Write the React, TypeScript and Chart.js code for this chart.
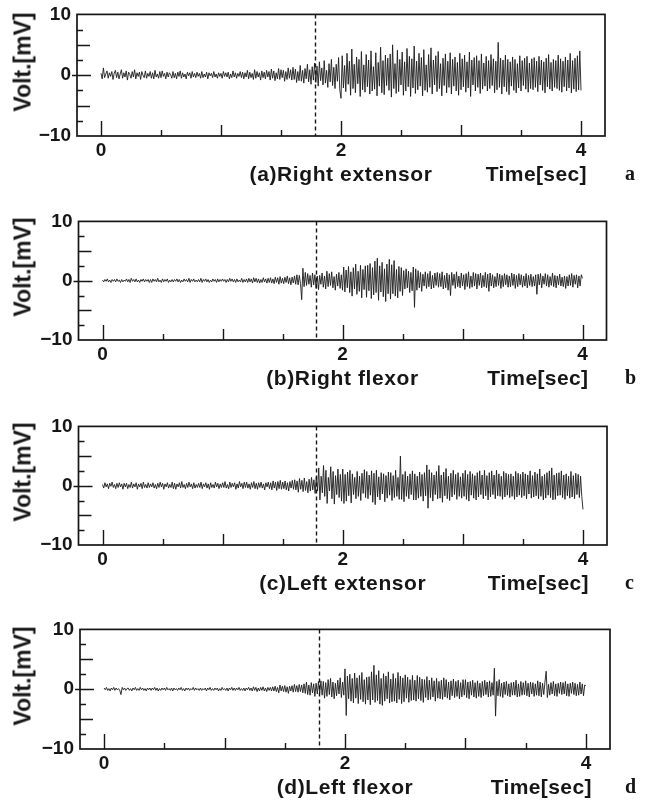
import React, { useEffect, useRef } from "react";
import { Chart, registerables } from "chart.js";

Chart.register(...registerables);

// ---- data -------------------------------------------------------------
const SAMPLE_STEP = 0.01; // seconds between samples
const X_TICK_LABELS = [0, 2, 4];
const Y_TICK_LABELS = [-10, 0, 10];
const ONSET_TIME = 1.78;
const CAPTIONS = ["(a)Right extensor", "(b)Right flexor", "(c)Left extensor", "(d)Left flexor"];
const LETTERS = ["a", "b", "c", "d"];
const X_TITLE = "Time[sec]";
const Y_TITLE = "Volt.[mV]";

const RIGHT_EXTENSOR = [
  0.3, -0.6, 1.2, -0.4, 0.2, 0.7, -0.5, 0.4, -0.2, 0.6, -0.7, 0.3, 0.8, -0.4, 0.5, -0.6, 0.2, 0.9, -0.5, 0.4,
  -0.3, 0.7, -0.8, 0.5, 0.1, -0.5, 0.6, -0.3, 0.9, -0.6, 0.4, -0.2, 0.5, -0.7, 0.6, 0.0, -0.4, 0.7, -0.5, 0.3,
  -0.2, 0.6, -0.5, 0.4, -0.6, 0.8, -0.3, 0.2, -0.5, 0.6, -0.4, 0.7, -0.2, 0.3, -0.6, 0.5, -0.3, 0.4, 0.1, -0.5,
  0.6, -0.4, 0.3, -0.6, 0.5, -0.2, 0.7, -0.5, 0.4, -0.3, 0.2, -0.6, 0.5, -0.1, 0.4, -0.5, 0.6, -0.3, 0.3, -0.4,
  0.5, -0.2, 0.3, -0.5, 0.6, -0.4, 0.2, -0.3, 0.5, -0.6, 0.4, -0.1, 0.3, -0.4, 0.6, -0.3, 0.2, -0.5, 0.4, -0.2,
  0.3, -0.5, 0.6, -0.2, 0.4, -0.3, 0.5, -0.6, 0.2, -0.4, 0.7, -0.3, 0.4, -0.5, 0.3, -0.2, 0.6, -0.4, 0.5, -0.6,
  0.4, -0.3, 0.8, -0.6, 0.5, -0.4, 0.3, -0.7, 0.9, -0.5, 0.6, -0.3, 0.4, -0.8, 0.7, -0.4, 0.5, -0.6, 0.8, -0.3,
  0.6, -0.8, 1.0, -0.5, 0.7, -0.9, 0.4, -0.6, 1.1, -0.7, 0.9, -0.4, 0.8, -1.0, 0.6, -0.7, 1.2, -0.5, 0.9, -0.8,
  1.3, -0.7, 1.0, -1.2, 0.6, -0.9, 1.6, -1.0, 0.8, -1.3, 1.1, -0.6, 1.8, -1.1, 0.9, -1.5, 1.4, -0.8, 2.0, -1.2,
  1.5, -1.8, 2.2, -0.9, 1.2, -1.6, 2.4, -1.3, 0.8, -2.0, 1.9, -1.1, 2.6, -1.7, 1.3, -2.2, 1.8, -1.0, 2.9, -2.4,
  -3.8, 3.2, -2.1, 1.6, -2.7, 3.6, -1.5, 2.3, -3.3, 4.3, -2.2, 1.8, -2.9, 3.0, -1.4, 2.6, -3.5, 3.9, -2.4, 1.7,
  -2.8, 3.4, -1.9, 2.5, -3.1, 4.0, -2.6, 1.4, -2.3, 3.7, -3.4, 2.1, -1.8, 4.6, -2.9, 2.4, -3.2, 3.3, -1.7, 2.8,
  -2.5, 3.5, -3.6, 5.0, -2.2, 1.9, -3.0, 4.1, -2.7, 2.6, -1.6, 3.8, -3.3, 2.2, -2.6, 4.4, -1.9, 3.1, -3.5, 2.7,
  -2.1, 4.8, -3.0, 2.3, -2.4, 3.6, -1.8, 2.9, -3.4, 4.2, -2.5, 1.7, -2.8, 3.4, -2.0, 4.5, -3.1, 2.5, -1.6, 3.2,
  -2.7, 3.9, -2.2, 1.9, -3.4, 2.8, -1.7, 3.5, -2.9, 2.3, -2.0, 3.7, -3.1, 2.6, -1.8, 3.0, -2.6, 2.1, -3.3, 3.6,
  -2.4, 2.7, -1.9, 3.3, -2.8, 2.2, -2.1, 3.8, -3.5, 2.5, -1.6, 2.9, -2.6, 3.2, -2.0, 2.4, -3.0, 3.5, -2.3, 2.0,
  -1.8, 3.1, -2.6, 2.4, -2.2, 3.4, -1.7, 2.7, -2.9, 2.3, -2.4, 5.4, -2.0, 2.8, -3.1, 2.5, -1.9, 3.3, -2.7, 2.6,
  -3.2, 2.2, -1.8, 3.0, -2.5, 2.6, -2.9, 1.9, -2.1, 3.2, -2.6, 2.4, -1.7, 2.8, -2.3, 3.1, -2.8, 2.0, -2.2, 2.7,
  -2.4, 2.9, -2.0, 2.3, -2.7, 3.1, -1.6, 2.5, -2.5, 2.2, -2.9, 2.8, -1.9, 3.4, -2.3, 2.1, -2.6, 2.6, -2.0, 2.4,
  -2.2, 3.3, -2.5, 2.7, -2.8, 2.3, -1.9, 3.0, -2.6, 2.5, -2.1, 3.6, -2.9, 2.4, -2.3, 2.8, -2.7, 3.2, -2.4, 4.0,
  -2.5,
];

const RIGHT_FLEXOR = [
  0.1, -0.2, 0.2, -0.1, 0.3, -0.2, 0.1, -0.3, 0.2, -0.1, 0.2, -0.2, 0.3, -0.1, 0.1, -0.3, 0.2, -0.2, 0.1, -0.1,
  0.3, -0.2, 0.2, -0.3, 0.4, -0.1, 0.2, -0.2, 0.3, -0.2, 0.1, -0.3, 0.2, -0.1, 0.3, -0.2, 0.2, -0.1, 0.2, -0.3,
  0.2, -0.3, 0.3, -0.1, 0.2, -0.2, 0.4, -0.2, 0.1, -0.3, 0.3, -0.2, 0.2, -0.1, 0.3, -0.3, 0.1, -0.2, 0.2, -0.2,
  0.2, -0.1, 0.3, -0.2, 0.2, -0.3, 0.1, -0.2, 0.3, -0.1, 0.2, -0.2, 0.4, -0.3, 0.2, -0.1, 0.3, -0.2, 0.1, -0.2,
  0.2, -0.2, 0.4, -0.3, 0.2, -0.1, 0.3, -0.2, 0.2, -0.3, 0.1, -0.2, 0.3, -0.1, 0.2, -0.3, 0.3, -0.2, 0.2, -0.1,
  0.3, -0.1, 0.2, -0.3, 0.2, -0.2, 0.4, -0.1, 0.3, -0.2, 0.2, -0.3, 0.3, -0.2, 0.1, -0.2, 0.4, -0.3, 0.2, -0.2,
  0.3, -0.3, 0.4, -0.2, 0.3, -0.4, 0.5, -0.2, 0.4, -0.3, 0.3, -0.4, 0.2, -0.3, 0.5, -0.2, 0.3, -0.4, 0.4, -0.3,
  0.5, -0.4, 0.3, -0.5, 0.6, -0.3, 0.5, -0.6, 0.7, -0.4, 0.4, -0.5, 0.6, -0.3, 0.8, -0.5, 0.5, -0.7, 0.6, -0.4,
  0.8, -0.6, 1.0, -0.7, 0.9, -0.5, -3.2, 2.1, -1.0, 1.4, -0.8, 1.2, -0.6, 0.9, -1.1, 1.3, -0.7, 1.0, -1.3, 0.8,
  -1.5, 0.9, -0.6, 1.3, -1.1, 0.8, -1.4, 1.6, -1.0, 1.2, -0.8, 1.5, -1.2, 0.7, -1.6, 1.1, -0.9, 1.4, -1.3, 1.0,
  -1.6, 2.3, -1.9, 1.8, -1.2, 2.4, -2.0, 1.5, -2.6, 2.2, -1.4, 2.8, -2.3, 1.6, -1.8, 2.6, -2.9, 1.9, -1.5, 2.5,
  -2.8, 2.6, -1.7, 2.9, -3.0, 2.2, -2.4, 3.3, -2.0, 3.8, -3.3, 2.5, -1.9, 3.1, -2.7, 2.0, -3.5, 2.8, -2.2, 3.6,
  -3.1, 2.7, -2.2, 3.4, -2.6, 1.9, -2.9, 2.4, -1.8, 2.2, -2.5, 1.7, -1.4, 2.0, -1.2, 1.6, -2.0, 1.4, -1.7, 2.3,
  -4.5, 2.0, -1.6, 1.7, -1.2, 1.4, -1.8, 1.1, -0.9, 1.5, -1.3, 1.2, -1.0, 1.6, -1.4, 0.9, -1.2, 1.3, -0.8, 1.4,
  -1.1, 1.2, -1.0, 1.5, -1.4, 0.9, -1.2, 1.3, -1.6, 1.0, -2.5, 1.4, -0.8, 1.1, -1.3, 1.5, -1.0, 0.8, -1.2, 1.3,
  -0.9, 1.0, -1.5, 1.2, -1.0, 1.5, -1.3, 0.8, -1.1, 1.4, -0.9, 1.2, -1.4, 1.1, -0.8, 1.3, -1.2, 0.9, -1.0, 1.4,
  -1.2, 1.1, -1.8, 1.3, -0.9, 1.0, -1.2, 0.7, -1.0, 1.3, -0.8, 1.1, -1.3, 0.9, -1.0, 1.2, -0.7, 1.0, -1.1, 0.8,
  -1.0, 1.3, -0.8, 1.1, -1.3, 0.9, -1.0, 1.2, -0.7, 1.0, -1.1, 0.8, -0.9, 1.2, -1.2, 0.9, -0.8, 1.1, -1.0, 0.7,
  -0.9, 1.0, -2.3, 1.1, -0.7, 1.2, -1.2, 0.8, -0.6, 1.2, -0.9, 1.0, -1.1, 0.7, -0.8, 1.3, -1.0, 0.9, -1.2, 0.8,
  -0.7, 1.1, -0.9, 0.6, -1.0, 0.8, -1.3, 0.7, -0.9, 1.0, -0.8, 1.2, -1.1, 0.9, -0.6, 1.0, -1.2, 0.8, -0.9, 1.0,
  0.4,
];

const LEFT_EXTENSOR = [
  0.2, -0.4, 0.5, -0.2, 0.3, -0.5, 0.4, -0.1, 0.6, -0.3, 0.2, -0.5, 0.4, -0.3, 0.5, -0.2, 0.3, -0.6, 0.4, -0.2,
  0.4, -0.5, 0.2, -0.3, 0.6, -0.4, 0.3, -0.2, 0.5, -0.6, 0.3, -0.2, 0.4, -0.5, 0.6, -0.3, 0.2, -0.4, 0.5, -0.3,
  0.3, -0.2, 0.5, -0.4, 0.2, -0.5, 0.4, -0.3, 0.6, -0.2, 0.4, -0.6, 0.3, -0.2, 0.5, -0.4, 0.2, -0.3, 0.6, -0.5,
  0.4, -0.6, 0.3, -0.2, 0.5, -0.4, 0.7, -0.3, 0.2, -0.5, 0.4, -0.3, 0.6, -0.2, 0.3, -0.5, 0.5, -0.4, 0.2, -0.3,
  0.4, -0.3, 0.6, -0.5, 0.3, -0.2, 0.5, -0.4, 0.3, -0.6, 0.5, -0.3, 0.2, -0.4, 0.6, -0.2, 0.4, -0.5, 0.3, -0.3,
  0.5, -0.3, 0.7, -0.4, 0.2, -0.5, 0.6, -0.3, 0.4, -0.2, 0.5, -0.6, 0.3, -0.4, 0.7, -0.2, 0.4, -0.5, 0.6, -0.3,
  0.6, -0.4, 0.3, -0.6, 0.5, -0.3, 0.7, -0.5, 0.4, -0.6, 0.5, -0.3, 0.6, -0.4, 0.3, -0.7, 0.5, -0.2, 0.6, -0.5,
  0.5, -0.7, 0.8, -0.4, 0.6, -0.8, 0.7, -0.5, 0.9, -0.6, 0.6, -0.5, 0.8, -0.7, 0.5, -0.9, 0.7, -0.4, 0.9, -0.6,
  1.0, -0.7, 0.8, -1.1, 1.2, -0.6, 0.9, -1.0, 1.3, -0.8, 0.7, -1.2, 1.1, -0.9, 1.4, -0.7, 1.0, -1.3, 1.5, -0.9,
  3.0, -2.4, 1.6, -1.2, 3.4, -1.8, 2.6, -3.0, 1.4, -0.9, 3.2, -2.2, 2.4, -3.1, 1.7, -1.5, 2.8, -2.0, 1.9, -2.6,
  2.8, -3.0, 1.9, -2.6, 2.3, -1.7, 2.6, -2.9, 2.0, -1.5, 1.4, -2.2, 2.4, -1.8, 1.6, -2.5, 2.1, -1.3, 2.7, -2.0,
  2.4, -2.2, 1.8, -1.6, 2.5, -2.8, 2.1, -3.2, 2.6, -1.9, 1.5, -2.4, 2.2, -1.4, 2.0, -2.7, 1.7, -2.1, 2.3, -1.6,
  2.2, -2.5, 1.7, -2.0, 2.6, -1.8, 1.4, -2.3, 5.0, -2.3, 1.9, -2.7, 2.4, -1.8, 1.6, -2.2, 2.0, -1.5, 2.5, -2.4,
  2.0, -2.4, 1.6, -2.1, 2.3, -1.8, 1.9, -2.6, 2.2, -1.7, 3.5, -3.8, 2.7, -2.0, 2.2, -2.6, 1.8, -1.5, 2.4, -2.2,
  3.4, -2.1, 1.8, -2.8, 2.3, -1.7, 2.9, -2.2, 1.6, -2.5, 2.1, -1.9, 2.6, -1.5, 1.9, -2.3, 2.2, -1.8, 1.5, -2.1,
  2.1, -1.8, 2.6, -2.3, 1.9, -2.6, 2.4, -1.6, 2.0, -2.1, 1.7, -2.4, 2.2, -1.9, 2.5, -1.5, 1.8, -2.2, 2.6, -1.7,
  1.7, -2.4, 2.2, -1.9, 2.5, -1.5, 1.8, -2.2, 2.6, -1.7, 2.0, -1.8, 1.6, -2.3, 2.4, -1.9, 2.1, -1.6, 1.9, -2.0,
  2.0, -1.8, 1.6, -2.3, 2.4, -1.9, 2.1, -1.6, 1.9, -2.0, 2.3, -1.7, 2.0, -2.2, 1.8, -1.4, 2.5, -2.1, 1.7, -1.9,
  2.3, -1.7, 2.0, -2.2, 2.8, -1.8, 1.6, -2.4, 1.9, -2.1, 2.2, -1.6, 2.5, -2.0, 3.0, -2.4, 1.8, -2.3, 2.1, -1.7,
  2.2, -1.6, 2.5, -2.0, 1.8, -2.3, 2.0, -1.7, 1.6, -2.1, 2.4, -1.9, 1.7, -2.2, 2.1, -1.5, 1.9, -2.0, 1.6, -1.8,
  -4.0,
];

const LEFT_FLEXOR = [
  0.2, -0.1, 0.3, -0.2, 0.1, -0.3, 0.2, -0.1, 0.3, -0.2, 0.2, -0.1, 0.1, -0.2, -0.9, 0.3, -0.1, 0.2, -0.2, 0.1,
  0.2, -0.2, 0.1, -0.3, 0.2, -0.1, 0.3, -0.2, 0.1, -0.2, 0.3, -0.1, 0.2, -0.2, 0.1, -0.3, 0.2, -0.1, 0.2, -0.2,
  0.2, -0.1, 0.3, -0.2, 0.2, -0.3, 0.1, -0.2, 0.2, -0.1, 0.2, -0.2, 0.3, -0.1, 0.1, -0.2, 0.2, -0.3, 0.2, -0.1,
  0.1, -0.2, 0.2, -0.1, 0.3, -0.2, 0.1, -0.3, 0.2, -0.1, 0.2, -0.2, 0.1, -0.1, 0.3, -0.2, 0.2, -0.1, 0.1, -0.2,
  0.2, -0.2, 0.1, -0.1, 0.2, -0.3, 0.2, -0.1, 0.3, -0.2, 0.1, -0.2, 0.2, -0.1, 0.2, -0.3, 0.1, -0.2, 0.3, -0.1,
  0.1, -0.2, 0.2, -0.3, 0.2, -0.1, 0.3, -0.2, 0.2, -0.2, 0.2, -0.1, 0.3, -0.2, 0.1, -0.2, 0.2, -0.3, 0.2, -0.1,
  0.3, -0.2, 0.2, -0.3, 0.4, -0.2, 0.3, -0.4, 0.2, -0.3, 0.3, -0.2, 0.4, -0.3, 0.2, -0.4, 0.3, -0.2, 0.3, -0.3,
  0.4, -0.3, 0.5, -0.4, 0.3, -0.6, 0.7, -0.3, 0.5, -0.4, 0.6, -0.5, 0.4, -0.7, 0.5, -0.3, 0.6, -0.5, 0.8, -0.4,
  0.6, -0.5, 0.8, -0.4, 0.7, -0.6, 0.9, -0.7, 1.2, -0.9, 0.7, -1.0, 1.1, -0.6, 0.9, -1.2, 1.0, -0.8, 1.3, -0.7,
  1.4, -1.0, 1.3, -1.5, 1.1, -1.2, 1.6, -0.9, 1.8, -1.3, 1.2, -1.6, 1.0, -1.1, 1.5, -0.8, 1.9, -1.4, 1.2, -1.0,
  3.4, -4.4, 2.2, -1.6, 2.5, -2.0, 1.8, -2.3, 2.7, -1.5, 1.9, -2.4, 2.3, -1.7, 2.8, -2.1, 1.6, -2.5, 2.0, -1.8,
  2.1, -2.6, 2.9, -1.8, 4.0, -2.2, 2.4, -1.9, 3.1, -2.5, 1.8, -2.7, 2.6, -2.0, 2.2, -1.6, 2.9, -2.3, 1.7, -2.1,
  2.6, -2.0, 1.8, -2.3, 2.8, -1.7, 2.2, -2.4, 1.9, -2.1, 2.4, -1.5, 2.0, -2.2, 1.6, -1.9, 2.3, -1.8, 1.5, -2.0,
  2.3, -1.6, 2.0, -1.9, 1.7, -2.2, 1.6, -1.4, 2.1, -1.8, 1.5, -1.7, 1.9, -1.3, 1.4, -2.0, 1.8, -1.5, 1.3, -1.6,
  1.5, -1.7, 1.9, -1.3, 1.6, -1.5, 1.2, -1.8, 1.4, -1.1, 1.7, -1.4, 1.3, -1.2, 1.5, -1.6, 1.1, -1.3, 1.6, -1.0,
  1.6, -1.4, 1.2, -1.6, 1.3, -1.0, 1.5, -1.3, 1.1, -1.5, 1.4, -1.2, 1.0, -1.4, 1.3, -1.1, 1.5, -0.9, 1.2, -1.3,
  1.4, -1.2, 1.1, -1.0, 3.5, -4.5, 1.3, -1.1, 1.6, -1.2, 1.0, -1.4, 1.2, -0.9, 1.3, -1.1, 0.9, -1.3, 1.1, -1.0,
  1.2, -1.0, 1.5, -1.3, 0.9, -1.2, 1.3, -1.0, 1.1, -0.9, 1.4, -1.1, 1.0, -1.3, 1.2, -0.8, 1.1, -1.2, 0.9, -1.0,
  1.4, -1.1, 1.2, -1.3, 1.0, -0.9, 1.2, 3.0, -1.4, 0.8, -1.0, 1.1, -0.8, 1.3, -1.1, 0.9, -1.2, 1.0, -0.7, 1.2,
  -0.9, 1.1, -0.8, 1.3, -1.1, 0.9, -1.2, 1.0, -0.7, 1.2, -0.9, 1.0, -1.1, 0.8, -1.0, 1.2, -0.8, 0.9, -1.1, 0.7,
  0.6,
];

const SERIES = [RIGHT_EXTENSOR, RIGHT_FLEXOR, LEFT_EXTENSOR, LEFT_FLEXOR];

// ---- layout (not data) -----------------------------------------------
const FRAMES = [
  { left: 77, right: 605, top: 11, bottom: 136 },
  { left: 78.5, right: 606.5, top: 218, bottom: 340 },
  { left: 78.5, right: 607, top: 423, bottom: 545 },
  { left: 80, right: 610, top: 626, bottom: 749 },
];
const X_MIN = -0.2;
const X_MAX = 4.2;
const Y_MIN = -10;
const Y_MAX = 10;
const PAD_TOP = 14;
const AXIS_H = 30;
const PAGE_W = 649;
const INK = "#161616";
const SANS = '"Liberation Sans", Arial, Helvetica, sans-serif';

const X_MARKS = [0, 0.5, 1, 1.5, 2, 2.5, 3, 3.5, 4];
const Y_MARKS = [-7.5, -5, -2.5, 0, 2.5, 5, 7.5];

const framePlugin = {
  id: "emgFrame",
  afterDraw(chart: any) {
    const { ctx, chartArea: a, scales } = chart;
    const xs = scales.x;
    const ys = scales.y;
    ctx.save();
    ctx.strokeStyle = INK;
    ctx.lineWidth = 1.4;
    ctx.beginPath();
    for (const v of Y_MARKS) {
      const py = Math.round(ys.getPixelForValue(v)) + 0.5;
      let x0 = a.left;
      let len = 6;
      if (v === 0) {
        x0 = a.left - 5;
        len = 14;
      } else if (v % 5 === 0) {
        len = 13;
      }
      ctx.moveTo(x0, py);
      ctx.lineTo(a.left + len, py);
    }
    for (const v of X_MARKS) {
      const px = Math.round(xs.getPixelForValue(v)) + 0.5;
      let len = 6;
      if (v % 2 === 0) len = 15;
      else if (v % 1 === 0) len = 11;
      ctx.moveTo(px, a.bottom);
      ctx.lineTo(px, a.bottom - len);
    }
    ctx.stroke();
    const ox = Math.round(xs.getPixelForValue(ONSET_TIME)) + 0.5;
    ctx.setLineDash([4, 3]);
    ctx.lineWidth = 1.4;
    ctx.beginPath();
    ctx.moveTo(ox, a.top);
    ctx.lineTo(ox, a.bottom);
    ctx.stroke();
    ctx.setLineDash([]);
    ctx.lineWidth = 1.7;
    ctx.strokeRect(a.left, a.top, a.right - a.left, a.bottom - a.top);
    ctx.restore();
  },
};

const captionFont = `bold 21px ${SANS}`;

function Panel({ index }: { index: number }) {
  const ref = useRef<HTMLCanvasElement | null>(null);
  const f = FRAMES[index];
  const values = SERIES[index];
  const h = f.bottom - f.top + PAD_TOP + AXIS_H;

  useEffect(() => {
    if (!ref.current) return;
    const points = values.map((v, i) => ({ x: Math.round(i * SAMPLE_STEP * 1000) / 1000, y: v }));
    const chart = new Chart(ref.current, {
      type: "line",
      data: {
        datasets: [
          {
            data: points,
            borderColor: "#1c1c1c",
            borderWidth: 0.9,
            pointRadius: 0,
            tension: 0,
            fill: false,
          },
        ],
      },
      options: {
        animation: false,
        responsive: false,
        events: [],
        layout: { padding: { top: PAD_TOP, left: 0, right: PAGE_W - f.right, bottom: 0 } },
        plugins: { legend: { display: false }, tooltip: { enabled: false }, title: { display: false } },
        scales: {
          x: {
            type: "linear",
            min: X_MIN,
            max: X_MAX,
            afterBuildTicks: (s: any) => {
              s.ticks = X_TICK_LABELS.map((v) => ({ value: v }));
            },
            afterFit: (s: any) => {
              s.height = AXIS_H;
            },
            grid: { display: false, drawTicks: false },
            border: { display: false },
            ticks: {
              padding: 3,
              color: INK,
              maxRotation: 0,
              autoSkip: false,
              font: { family: SANS, size: 19, weight: "bold" },
              callback: (v: any) => String(v),
            },
          },
          y: {
            type: "linear",
            min: Y_MIN,
            max: Y_MAX,
            afterBuildTicks: (s: any) => {
              s.ticks = Y_TICK_LABELS.map((v) => ({ value: v }));
            },
            afterFit: (s: any) => {
              s.width = f.left;
            },
            grid: { display: false, drawTicks: false },
            border: { display: false },
            ticks: {
              padding: 6,
              color: INK,
              autoSkip: false,
              font: { family: SANS, size: 19, weight: "bold" },
              callback: (v: any) => (v < 0 ? "\u2212" + Math.abs(v) : String(v)),
            },
          },
        },
      },
      plugins: [framePlugin],
    } as any);
    return () => chart.destroy();
  }, [index]);

  const x2 = f.left + ((2 - X_MIN) / (X_MAX - X_MIN)) * (f.right - f.left);
  const x4 = f.left + ((4 - X_MIN) / (X_MAX - X_MIN)) * (f.right - f.left);
  const capY = f.bottom + 37;
  const midY = (f.top + f.bottom) / 2 - 12;

  return (
    <>
      <canvas
        ref={ref}
        width={PAGE_W}
        height={h}
        style={{ position: "absolute", left: 0, top: f.top - PAD_TOP, width: PAGE_W, height: h }}
      />
      <div
        style={{
          position: "absolute",
          left: 23,
          top: midY,
          transform: "translate(-50%, -50%) rotate(-90deg)",
          font: `bold 23px ${SANS}`,
          color: INK,
          whiteSpace: "nowrap",
          lineHeight: 1,
        }}
      >
        {Y_TITLE}
      </div>
      <div
        style={{
          position: "absolute",
          left: x2,
          top: capY,
          transform: "translate(-50%, -50%)",
          font: captionFont,
          letterSpacing: "0.6px",
          color: INK,
          whiteSpace: "nowrap",
          lineHeight: 1,
        }}
      >
        {CAPTIONS[index]}
      </div>
      <div
        style={{
          position: "absolute",
          left: x4 + 6,
          top: capY,
          transform: "translate(-100%, -50%)",
          font: captionFont,
          letterSpacing: "0.4px",
          color: INK,
          whiteSpace: "nowrap",
          lineHeight: 1,
        }}
      >
        {X_TITLE}
      </div>
      <div
        style={{
          position: "absolute",
          left: 625,
          top: capY,
          transform: "translate(0, -50%)",
          font: 'bold 20px "Liberation Serif", "Times New Roman", serif',
          color: INK,
          whiteSpace: "nowrap",
          lineHeight: 1,
        }}
      >
        {LETTERS[index]}
      </div>
    </>
  );
}

export default function App() {
  return (
    <div
      style={{
        position: "absolute",
        left: 0,
        top: 0,
        width: PAGE_W,
        height: 801,
        background: "#ffffff",
        overflow: "hidden",
      }}
    >
      {SERIES.map((_, i) => (
        <Panel key={i} index={i} />
      ))}
    </div>
  );
}
